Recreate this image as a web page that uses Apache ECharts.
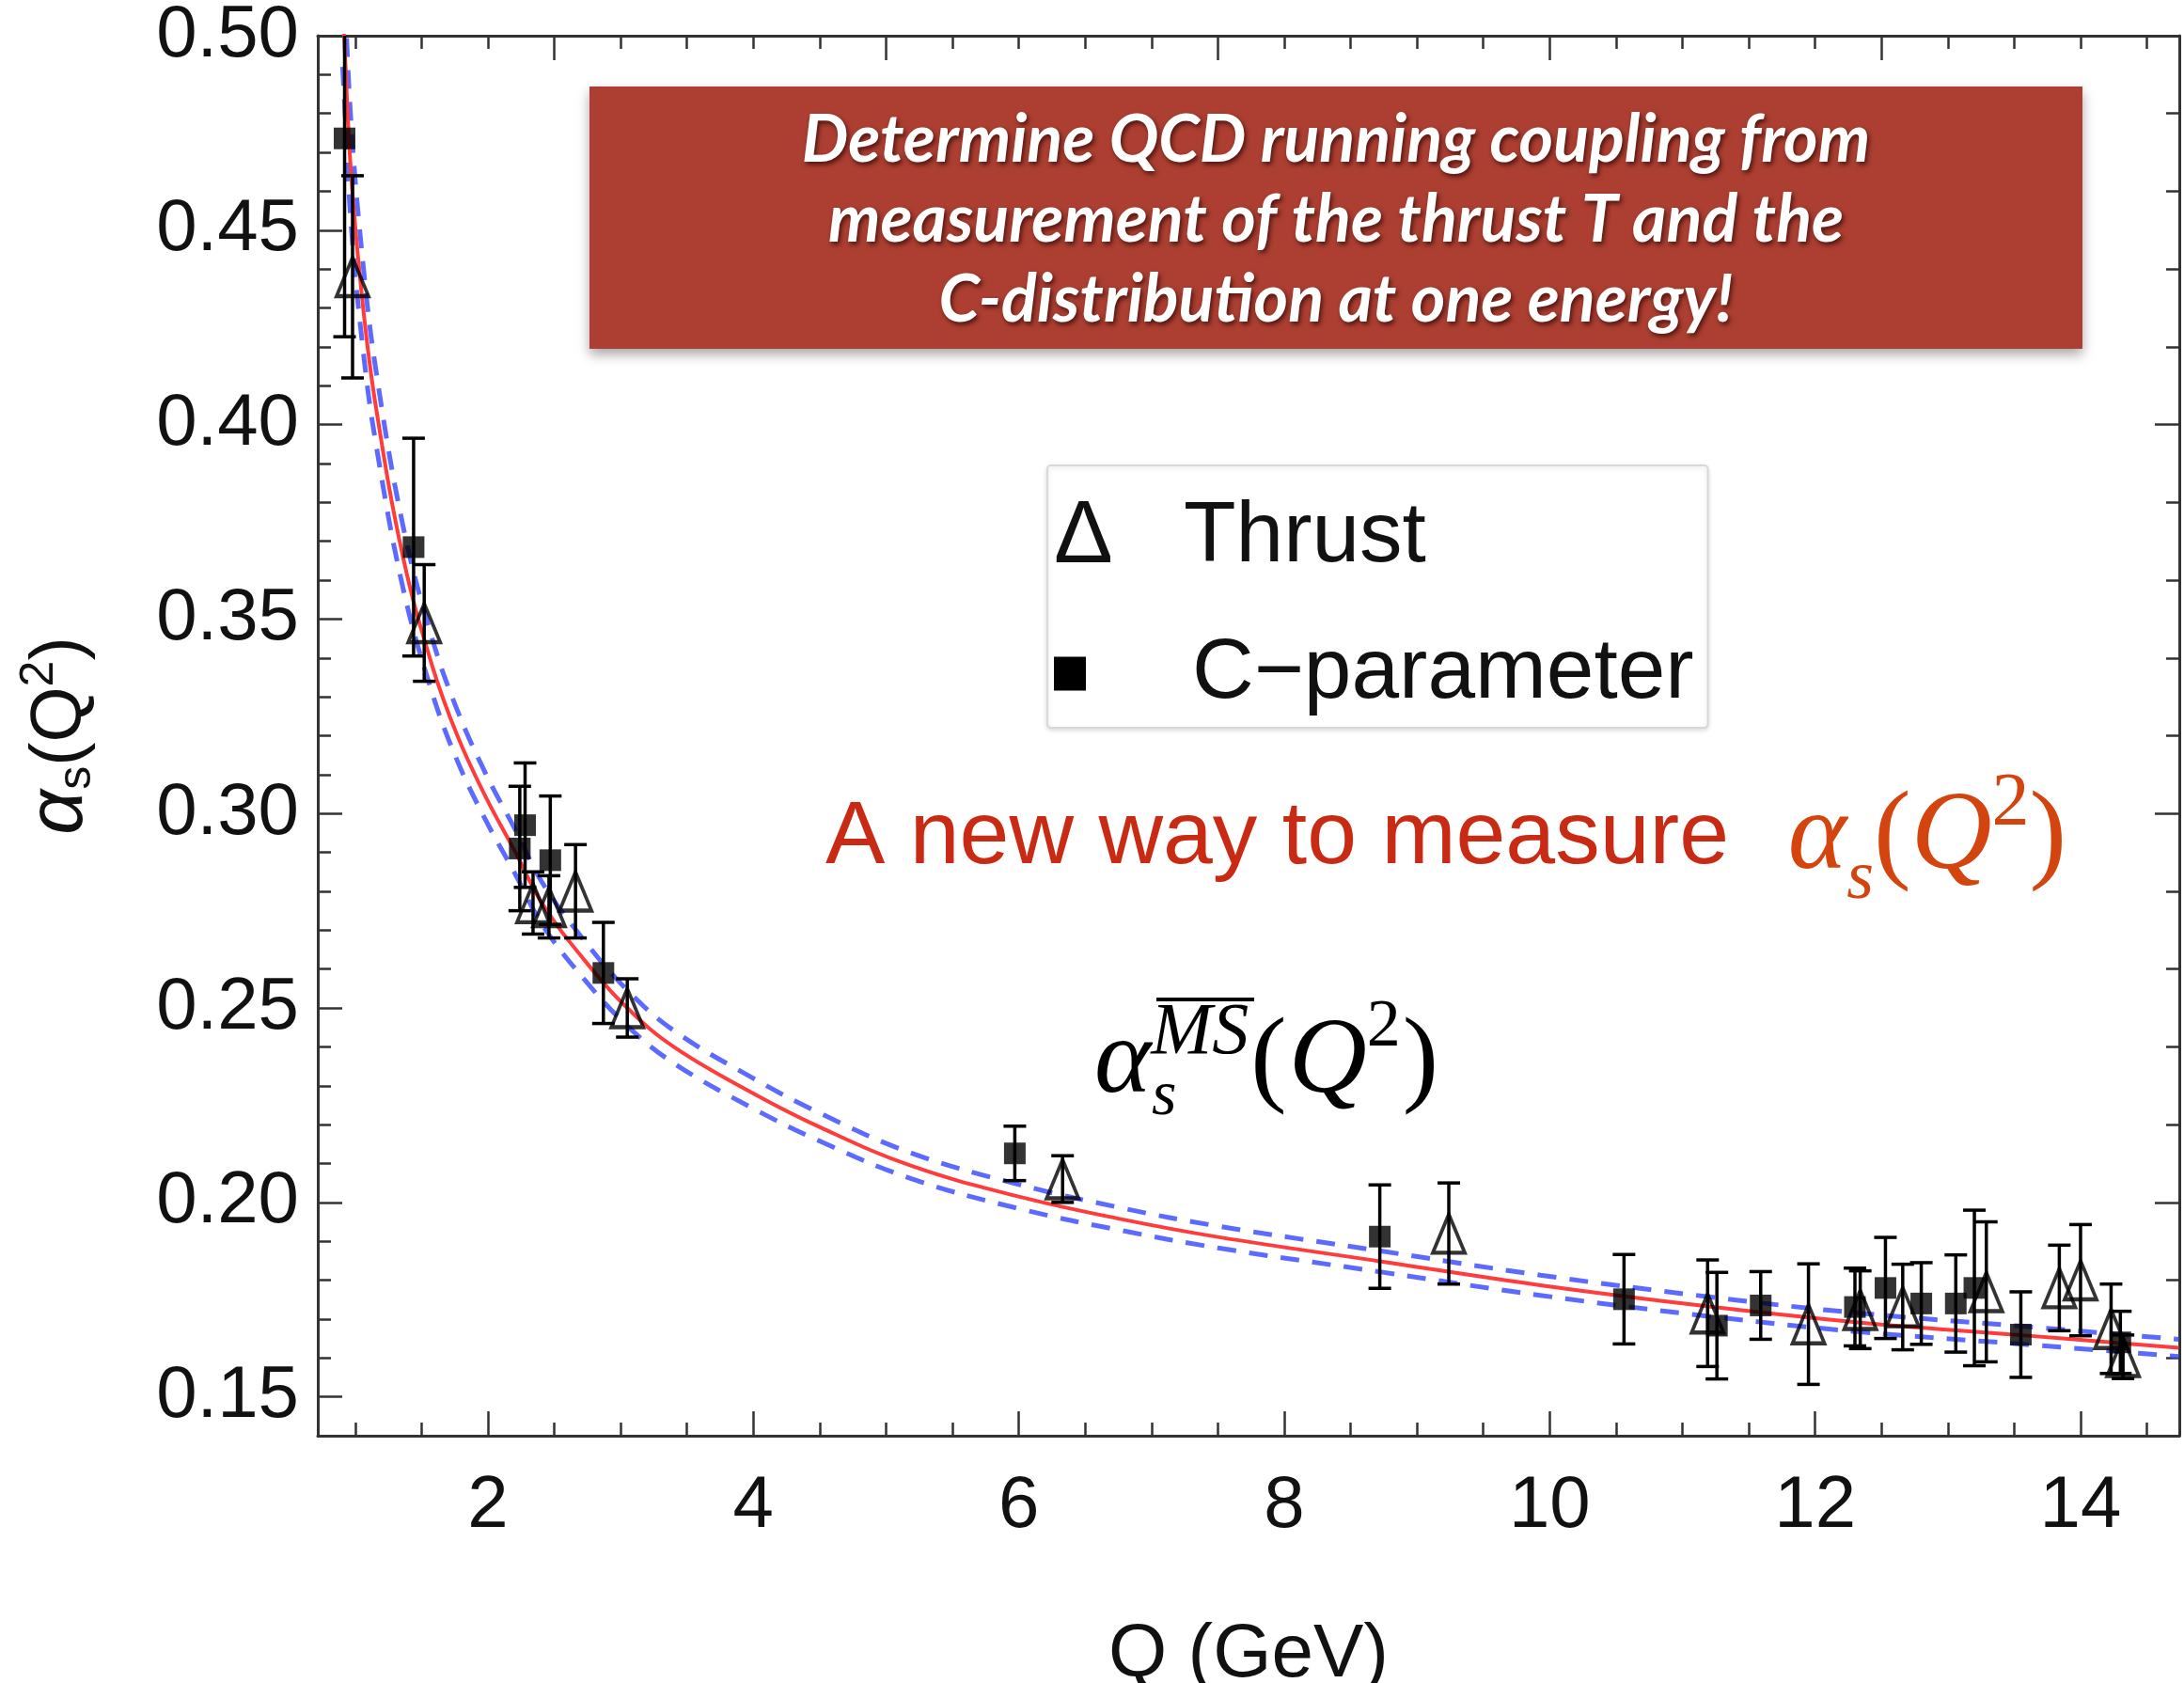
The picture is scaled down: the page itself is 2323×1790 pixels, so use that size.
<!DOCTYPE html>
<html>
<head>
<meta charset="utf-8">
<script src="https://cdn.jsdelivr.net/npm/echarts@6/dist/echarts.min.js"></script>
<style>
  html, body { margin: 0; padding: 0; background: #fff; overflow: hidden; }
  #chart { width: 2323px; height: 1790px; }
</style>
</head>
<body>
<div id="chart"></div>
<script>
// alpha_s(Q^2) extracted from thrust and C-parameter, with the MS-bar running curve

// Thrust extractions: scale Q (GeV), alpha_s, symmetric error
const thrustQ     = [0.98, 1.52, 2.34, 2.46, 2.66, 3.05, 6.33, 9.24, 11.19, 11.95, 12.34, 12.66, 13.29, 13.84, 14.00, 14.23, 14.32];
const thrustAlpha = [0.438, 0.349, 0.277, 0.276, 0.280, 0.250, 0.206, 0.192, 0.1715, 0.1687, 0.1724, 0.1731, 0.1770, 0.1780, 0.1800, 0.1675, 0.1603];
const thrustErr   = [0.026, 0.015, 0.008, 0.008, 0.012, 0.0075, 0.006, 0.013, 0.0137, 0.0155, 0.010, 0.011, 0.018, 0.011, 0.0143, 0.0115, 0.0056];

// C-parameter extractions
const cparQ     = [0.92, 1.44, 2.24, 2.28, 2.47, 2.87, 5.97, 8.72, 10.56, 11.26, 11.59, 12.30, 12.53, 12.80, 13.06, 13.20, 13.55, 14.30];
const cparAlpha = [0.4736, 0.3685, 0.291, 0.297, 0.288, 0.259, 0.2126, 0.1912, 0.1751, 0.1683, 0.1735, 0.1731, 0.1780, 0.1740, 0.1740, 0.1780, 0.1660, 0.1640];
const cparErr   = [0.051, 0.028, 0.016, 0.016, 0.0165, 0.013, 0.007, 0.0133, 0.0115, 0.0137, 0.0087, 0.010, 0.013, 0.0105, 0.0125, 0.020, 0.011, 0.008];

// MS-bar running coupling (central value) and its uncertainty band
const curveQ     = [0.905, 0.916, 0.97, 1.06, 1.154, 1.36, 1.58, 1.77, 1.98, 2.20, 2.41, 2.72, 3.05, 3.40, 3.99, 4.51, 5.19, 6.00, 6.77, 7.50, 8.73, 9.93, 11.23, 12.34, 13.54, 14.74];
const curveAlpha = [0.508, 0.500, 0.464, 0.430, 0.405, 0.366, 0.338, 0.320, 0.3045, 0.2905, 0.2768, 0.2626, 0.2500, 0.2400, 0.2282, 0.2192, 0.2094, 0.2015, 0.1957, 0.1911, 0.1848, 0.1787, 0.1731, 0.1691, 0.1659, 0.1626];
const bandUpper  = [0.524, 0.515, 0.477, 0.441, 0.4145, 0.374, 0.345, 0.3265, 0.3105, 0.2962, 0.2822, 0.2676, 0.2546, 0.2442, 0.2321, 0.2228, 0.2127, 0.2046, 0.1986, 0.1939, 0.1875, 0.1813, 0.1756, 0.1715, 0.1682, 0.1648];
const bandLower  = [0.492, 0.485, 0.451, 0.419, 0.3955, 0.358, 0.331, 0.3135, 0.2985, 0.2848, 0.2714, 0.2576, 0.2454, 0.2358, 0.2243, 0.2156, 0.2061, 0.1984, 0.1928, 0.1883, 0.1821, 0.1761, 0.1706, 0.1667, 0.1636, 0.1604];

// Frame ticks
const xMajorTicks    = [2, 4, 6, 8, 10, 12, 14];
const xMinorTicks    = [1, 1.5, 2.5, 3, 3.5, 4.5, 5, 5.5, 6.5, 7, 7.5, 8.5, 9, 9.5, 10.5, 11, 11.5, 12.5, 13, 13.5, 14.5];
const xTopMajorTicks = [2.5, 5, 7.5, 10, 12.5];
const xTopMinorTicks = [1, 1.5, 2, 3, 3.5, 4, 4.5, 5.5, 6, 6.5, 7, 8, 8.5, 9, 9.5, 10.5, 11, 11.5, 12, 13, 13.5, 14, 14.5];
const yMajorTicks    = [0.15, 0.20, 0.25, 0.30, 0.35, 0.40, 0.45, 0.50];
const yMinorTicks    = [0.16, 0.17, 0.18, 0.19, 0.21, 0.22, 0.23, 0.24, 0.26, 0.27, 0.28, 0.29, 0.31, 0.32, 0.33, 0.34,
                        0.36, 0.37, 0.38, 0.39, 0.41, 0.42, 0.43, 0.44, 0.46, 0.47, 0.48, 0.49];
const yRightMajorTicks = [0.2, 0.3, 0.4, 0.5];
const yRightMinorTicks = [0.16, 0.18, 0.22, 0.24, 0.26, 0.28, 0.32, 0.34, 0.36, 0.38, 0.42, 0.44, 0.46, 0.48];

const X_MIN = 0.718, X_MAX = 14.744, Y_MIN = 0.14, Y_MAX = 0.50;
const FRAME = '#333';
const SANS = 'Liberation Sans, Arial, Helvetica, sans-serif';
const SERIF = 'Liberation Serif, Times New Roman, serif';

function frameAxis(kind, position, ticks, tickLen, showLine) {
  return {
    type: 'value',
    position: position,
    min: kind === 'x' ? X_MIN : Y_MIN,
    max: kind === 'x' ? X_MAX : Y_MAX,
    splitLine: { show: false },
    axisLine: { show: showLine, onZero: false, lineStyle: { color: FRAME, width: 3 } },
    axisTick: { show: true, inside: true, length: tickLen, customValues: ticks,
                lineStyle: { color: FRAME, width: 2.5 } },
    axisLabel: { show: false },
    axisPointer: { show: false },
    silent: true
  };
}

const xBottom = frameAxis('x', 'bottom', xMajorTicks, 26, true);
xBottom.axisLabel = {
  show: true, customValues: xMajorTicks, margin: 36,
  fontSize: 78, color: '#111', fontFamily: SANS
};
xBottom.name = 'Q (GeV)';
xBottom.nameLocation = 'middle';
xBottom.nameGap = 194;
xBottom.nameTextStyle = { fontSize: 80, color: '#111', fontFamily: SANS };

const yLeft = frameAxis('y', 'left', yMajorTicks, 26, true);
yLeft.axisLabel = {
  show: true, customValues: yMajorTicks, margin: 20,
  fontSize: 78, color: '#111', fontFamily: SANS,
  padding: [12, 0, 0, 0],
  formatter: v => v.toFixed(2)
};
yLeft.name = '{g|\u03b1}{sub|s}{a|(Q}{sup|2}{a|)}';
yLeft.nameLocation = 'middle';
yLeft.nameRotate = 90;
yLeft.nameGap = 226;
yLeft.nameTextStyle = {
  color: '#111', fontFamily: SANS, fontSize: 76,
  rich: {
    g:   { fontSize: 84, fontFamily: SANS, fontStyle: 'italic', color: '#111', lineHeight: 96 },
    a:   { fontSize: 76, fontFamily: SANS, color: '#111', lineHeight: 96 },
    sub: { fontSize: 50, fontFamily: SANS, color: '#111', lineHeight: 96, padding: [36, 0, 0, 0] },
    sup: { fontSize: 50, fontFamily: SANS, color: '#111', lineHeight: 96, padding: [0, 0, 44, 0] }
  }
};

const xy = (qs, as) => qs.map((q, i) => [q, as[i]]);

function errorBars(qs, as, errs) {
  return {
    type: 'custom',
    xAxisIndex: 0, yAxisIndex: 0,
    clip: true,
    z: 5,
    silent: true,
    encode: { x: 0, y: [1, 2] },
    data: qs.map((q, i) => [q, as[i] - errs[i], as[i] + errs[i]]),
    renderItem: function (params, api) {
      const q = api.value(0);
      const lo = api.coord([q, api.value(1)]);
      const hi = api.coord([q, api.value(2)]);
      const cap = 12;
      const style = { stroke: '#000', lineWidth: 3.5 };
      return {
        type: 'group',
        children: [
          { type: 'line', shape: { x1: lo[0], y1: lo[1], x2: hi[0], y2: hi[1] }, style: style },
          { type: 'line', shape: { x1: lo[0] - cap, y1: lo[1], x2: lo[0] + cap, y2: lo[1] }, style: style },
          { type: 'line', shape: { x1: hi[0] - cap, y1: hi[1], x2: hi[0] + cap, y2: hi[1] }, style: style }
        ]
      };
    }
  };
}

function curveLine(name, values, color, width, dash, z) {
  return {
    name: name, type: 'line', xAxisIndex: 0, yAxisIndex: 0,
    data: xy(curveQ, values),
    showSymbol: false, symbol: 'none', smooth: 0.4, clip: true, z: z, silent: true,
    lineStyle: { color: color, width: width, type: dash }
  };
}

const CPAR = 'C\u2212parameter';

const option = {
  backgroundColor: '#fff',
  animation: false,
  grid: { left: 338, top: 38, width: 1980, height: 1489, containLabel: false, outerBoundsMode: 'none' },
  xAxis: [
    xBottom,
    frameAxis('x', 'bottom', xMinorTicks, 14, false),
    frameAxis('x', 'top', xTopMajorTicks, 26, true),
    frameAxis('x', 'top', xTopMinorTicks, 14, false)
  ],
  yAxis: [
    yLeft,
    frameAxis('y', 'left', yMinorTicks, 14, false),
    frameAxis('y', 'right', yRightMajorTicks, 26, true),
    frameAxis('y', 'right', yRightMinorTicks, 14, false)
  ],
  legend: {
    data: [{ name: 'Thrust', icon: 'none' }, { name: CPAR, icon: 'none' }],
    orient: 'vertical',
    left: 1114, top: 495,
    itemWidth: 0, itemHeight: 0, itemGap: 52,
    padding: [30, 15, 12, 2],
    backgroundColor: '#fff',
    borderColor: '#d8d8d8', borderWidth: 2, borderRadius: 4,
    shadowBlur: 5, shadowColor: 'rgba(0,0,0,0.12)', shadowOffsetY: 2,
    selectedMode: false,
    formatter: n => n === 'Thrust' ? '{tri|\u0394}{t|Thrust}' : '{sq| }{gap| }{t|' + n + '}',
    textStyle: {
      fontFamily: SANS, fontSize: 91, color: '#111',
      rich: {
        tri: { fontFamily: SANS, fontSize: 94, color: '#111', width: 138, lineHeight: 106 },
        t:   { fontFamily: SANS, fontSize: 91, color: '#111', lineHeight: 106 },
        sq:  { width: 34, height: 36, backgroundColor: '#000', lineHeight: 106 },
        gap: { width: 113, lineHeight: 106 }
      }
    }
  },
  series: [
    curveLine('band upper', bandUpper, 'rgba(64,80,255,0.85)', 5, [20, 14], 2),
    curveLine('band lower', bandLower, 'rgba(64,80,255,0.85)', 5, [20, 14], 2),
    curveLine('MS-bar', curveAlpha, '#ff3b3b', 4, 'solid', 3),
    errorBars(thrustQ, thrustAlpha, thrustErr),
    errorBars(cparQ, cparAlpha, cparErr),
    {
      name: 'Thrust', type: 'scatter', xAxisIndex: 0, yAxisIndex: 0, z: 6, clip: true,
      data: xy(thrustQ, thrustAlpha),
      symbol: 'triangle', symbolSize: [34, 41],
      itemStyle: { color: 'rgba(255,255,255,0)', borderColor: '#000', borderWidth: 4 },
      silent: true
    },
    {
      name: CPAR, type: 'scatter', xAxisIndex: 0, yAxisIndex: 0, z: 6, clip: true,
      data: xy(cparQ, cparAlpha),
      symbol: 'rect', symbolSize: 23,
      itemStyle: { color: '#000' },
      silent: true
    }
  ],
  graphic: {
    elements: [
      {
        type: 'rect', z: 20,
        shape: { x: 627, y: 92, width: 1588, height: 279 },
        style: { fill: '#ac3f31', shadowBlur: 12, shadowOffsetY: 6, shadowColor: 'rgba(0,0,0,0.35)' }
      },
      {
        type: 'text', z: 21, x: 1421, y: 234,
        style: {
          text: 'Determine QCD running coupling from\nmeasurement of the thrust T and the\nC-distribution at one energy!',
          fill: '#fff', fontSize: 70, fontWeight: 'bold', fontFamily: 'Lato, Open Sans, sans-serif', fontStyle: 'italic',
          align: 'center', verticalAlign: 'middle', lineHeight: 85,
          textShadowColor: 'rgba(40,0,0,0.7)', textShadowBlur: 5, textShadowOffsetX: 2, textShadowOffsetY: 3
        }
      },
      {
        type: 'text', z: 21, x: 878, y: 892,
        style: {
          text: '{a|A new way to measure  }{g|\u03b1}{sub|s}{p|(}{m|Q}{sup|2}{p|)}',
          align: 'left', verticalAlign: 'middle',
          rich: {
            a:   { fontSize: 95, fontFamily: SANS, fill: '#c92a14', lineHeight: 130 },
            g:   { fontSize: 119, fontFamily: SERIF, fontStyle: 'italic', fill: '#d4440f', lineHeight: 130, padding: [0, 0, 0, 10] },
            m:   { fontSize: 119, fontFamily: SERIF, fontStyle: 'italic', fill: '#d4440f', lineHeight: 130 },
            p:   { fontSize: 119, fontFamily: SERIF, fill: '#d4440f', lineHeight: 130 },
            sub: { fontSize: 74, fontFamily: SERIF, fontStyle: 'italic', fill: '#d4440f', lineHeight: 130, padding: [88, 0, 0, 0] },
            sup: { fontSize: 80, fontFamily: SERIF, fill: '#d4440f', lineHeight: 130, padding: [0, 0, 72, 0] }
          }
        }
      },
      {
        type: 'text', z: 21, x: 1164, y: 1131,
        style: {
          text: '{m|\u03b1}{ms|MS}{p|(}{m|Q}{sup|2}{p|)}',
          align: 'left', verticalAlign: 'middle',
          rich: {
            m:   { fontSize: 115, fontFamily: SERIF, fontStyle: 'italic', fill: '#000', lineHeight: 130 },
            p:   { fontSize: 115, fontFamily: SERIF, fill: '#000', lineHeight: 130, padding: [0, 2, 0, 2] },
            ms:  { fontSize: 78, fontFamily: SERIF, fontStyle: 'italic', fill: '#000', lineHeight: 130, padding: [0, 0, 64, 0] },
            sup: { fontSize: 72, fontFamily: SERIF, fill: '#000', lineHeight: 130, padding: [0, 0, 76, 0] }
          }
        }
      },
      {
        type: 'text', z: 21, x: 1225, y: 1167,
        style: { text: 's', fontSize: 68, fontFamily: SERIF, fontStyle: 'italic', fill: '#000', align: 'left', verticalAlign: 'middle' }
      },
      {
        type: 'line', z: 21,
        shape: { x1: 1230, y1: 1063, x2: 1334, y2: 1063 },
        style: { stroke: '#000', lineWidth: 4 }
      }
    ]
  }
};

const chart = echarts.init(document.getElementById('chart'), null, { renderer: 'canvas' });
chart.setOption(option);
</script>
</body>
</html>
